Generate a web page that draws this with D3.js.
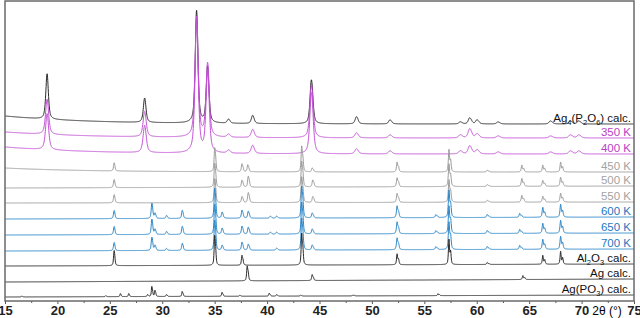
<!DOCTYPE html>
<html>
<head>
<meta charset="utf-8">
<script src="https://cdn.jsdelivr.net/npm/d3@7"></script>
<style>
  body { margin: 0; background: #fff; }
  text { font-family: "Liberation Sans", Arial, sans-serif; }
</style>
</head>
<body>
<div id="xrd_chart"></div>
<script>
// peak lists: [2theta, height]
var ag4p2o6Calc = [[19.0,45],[28.3,24],[33.25,110],[34.3,55],[36.3,4],[38.6,8],[44.2,43],[48.5,7],[51.7,4],[58.4,2],[59.3,6],[60.0,4],[62.0,2],[67.0,3],[68.9,3],[69.7,3]];
var k350 = [[19.0,35],[28.3,25],[33.25,118],[34.3,72],[36.3,3],[38.6,8],[44.2,52],[48.5,5],[51.7,3],[58.4,3],[59.3,9],[60.0,4],[62.0,2],[67.0,2],[68.9,3],[69.7,3]];
var k400 = [[19.0,36],[28.3,27],[33.25,128],[34.3,80],[36.3,3],[38.6,8],[44.2,60],[48.5,5],[51.7,3],[58.4,3],[59.3,8],[60.0,4],[62.0,2],[67.0,2],[68.9,3],[69.7,3]];
var k450 = [[25.4,8],[35.0,24],[37.6,8],[38.15,7],[43.3,26],[44.3,4],[52.4,10],[57.35,23],[61.0,2],[64.3,7],[66.3,7],[68.0,10]];
var k500 = [[25.4,8],[35.0,24],[37.6,7],[38.2,11],[43.3,26],[44.35,7],[52.4,9],[57.35,23],[61.0,2],[64.3,8],[66.3,6],[68.0,9]];
var k550 = [[25.4,8],[35.0,24],[37.6,6],[38.2,10],[43.3,26],[44.35,6],[52.4,9],[57.35,23],[61.0,2],[64.3,7],[66.3,6],[68.0,9]];
var k600 = [[25.4,8],[29.0,15],[29.3,5],[30.4,3],[31.9,8],[35.0,30],[35.7,6],[37.6,8],[38.2,7],[40.3,2],[40.9,2],[43.3,32],[44.3,5],[52.4,12],[56.1,3],[57.35,28],[61.0,3],[64.1,4],[66.3,10],[68.0,13]];
var k650 = [[25.4,8],[29.0,15],[29.3,5],[30.4,3],[31.9,8],[35.0,30],[35.7,6],[37.6,8],[38.2,7],[40.3,2],[40.9,2],[43.3,32],[44.3,5],[52.4,12],[56.1,3],[57.35,28],[61.0,3],[64.1,4],[66.3,10],[68.0,13]];
var k700 = [[25.4,8],[29.0,13],[29.3,5],[30.4,2],[31.9,7],[35.0,30],[35.7,5],[37.6,8],[38.2,6],[40.9,2],[43.3,32],[44.3,5],[52.4,12],[56.1,3],[57.35,28],[61.0,3],[64.1,4],[66.3,10],[68.0,13]];
var al2o3Calc = [[25.4,15],[35.0,30],[37.6,10],[43.3,32],[52.4,11],[57.35,26],[61.0,2],[66.3,9],[68.0,13]];
var agCalc = [[38.1,15],[44.3,6],[64.4,4]];
var agpo3Calc = [[16.6,1],[24.6,1],[26.0,3],[26.8,3],[28.6,2],[29.0,10],[29.3,6],[30.4,2],[31.9,5],[35.7,4],[37.4,1],[40.2,3],[40.9,1.5],[43.2,1],[48.2,1],[56.3,2]];

var patterns = [ag4p2o6Calc, k350, k400, k450, k500, k550, k600, k650, k700, al2o3Calc, agCalc, agpo3Calc];
var labels = ["Ag_4(P_2O_6) calc.", "350 K", "400 K", "450 K", "500 K", "550 K", "600 K", "650 K", "700 K", "Al_2O_3 calc.", "Ag calc.", "Ag(PO_3) calc."];
var groups = ["calc", "low", "low", "mid", "mid", "mid", "high", "high", "high", "calc", "calc", "calc"];
// background level at 15 and 75 deg, low angle rise
var bgStart = [177, 163, 147, 129, 113, 98, 82, 66, 50, 35, 19, 4];
var bgEnd   = [177, 163, 147, 129, 115, 99, 84, 68, 52, 37, 22, 6];
var bgRise  = [8, 6, 7, 4, 0, 0, 0, 0, 0, 0, 0, 0];
var peakWidth = [0.28, 0.34, 0.34, 0.13, 0.14, 0.14, 0.14, 0.14, 0.14, 0.12, 0.12, 0.1];

var xTicks = [15, 20, 25, 30, 35, 40, 45, 50, 55, 60, 65, 70, 75];
var xMinor = [17.5, 22.5, 27.5, 32.5, 37.5, 42.5, 47.5, 52.5, 57.5, 62.5, 67.5, 72.5];

var width = 640,
    height = 318

var svg = d3.select("#xrd_chart")
    .append("svg")
        .attr("width", width)
        .attr("height", height)

var x = d3.scaleLinear().domain([15, 75]).range([5, 634])
var y = d3.scaleLinear().domain([0, 300]).range([301, 1])

var color = d3.scaleOrdinal()
    .domain(["calc", "low", "mid", "high"])
    .range(["#2a2a2a", "#c452d6", "#9c9c9c", "#2a86c8"])
var labelColor = d3.scaleOrdinal()
    .domain(["calc", "low", "mid", "high"])
    .range(["#111", "#b93fc4", "#a3a3a3", "#1f78c0"])

// pseudo-voigt peak, with Ka2 line at half intensity
function pv(d, hw) {
    var r = (d / hw) * (d / hw)
    return 0.6 / (1 + r) + 0.4 * Math.exp(-Math.LN2 * r)
}
function ka2Shift(t) {
    return 2 * Math.tan(t / 2 * Math.PI / 180) * 0.002486 * 180 / Math.PI
}

var grid = d3.range(15, 75.001, 0.02)

function profile(i) {
    var hw = peakWidth[i] / 2
    return grid.map(function(t) {
        var v = bgStart[i] + (bgEnd[i] - bgStart[i]) * (t - 15) / 60 + bgRise[i] * Math.exp(-(t - 15) / 8)
        patterns[i].forEach(function(p) {
            var s = ka2Shift(p[0])
            var h = p[1] / (1 + 0.5 * pv(s, hw))
            v += h * pv(t - p[0], hw) + 0.5 * h * pv(t - p[0] - s, hw)
        })
        return [t, v]
    })
}

var line = d3.line()
    .x(function(d){ return x(d[0]) })
    .y(function(d){ return y(d[1]) })

var plot = svg.append("g")
plot.selectAll("path")
    .data(patterns.map(function(p, i){ return i }))
    .enter()
    .append("path")
      .attr("d", function(i){ return line(profile(i)) })
      .attr("fill", "none")
      .attr("stroke", function(i){ return color(groups[i]) })
      .attr("stroke-width", 1)

// labels with subscripts
var lab = svg.append("g")
labels.forEach(function(s, i) {
    var t = lab.append("text")
        .attr("x", 631)
        .attr("y", y(bgEnd[i]) - 2)
        .attr("text-anchor", "end")
        .attr("font-size", 11.5)
        .attr("fill", labelColor(groups[i]))
    var down = false
    s.split(/(_\d)/).forEach(function(part) {
        if (part === "") return
        if (part[0] === "_") {
            t.append("tspan").attr("font-size", 7.5).attr("dy", 3).text(part.slice(1))
            down = true
        } else {
            t.append("tspan").attr("dy", down ? -3 : 0).text(part)
            down = false
        }
    })
})

// x axis
var xAxis = svg.append("g")
    .attr("transform", "translate(0,301)")
    .call(d3.axisBottom(x).tickValues(xTicks).tickSize(3).tickPadding(2).tickFormat(d3.format("d")))
xAxis.select(".domain").remove()
xAxis.selectAll("text").attr("font-size", 13).attr("font-weight", "bold").attr("fill", "#222").style("font-family", "Liberation Sans, Arial, sans-serif")
xAxis.selectAll("line").attr("stroke", "#555")

var minor = svg.append("g")
    .attr("transform", "translate(0,301)")
    .call(d3.axisBottom(x).tickValues(xMinor).tickSize(2).tickFormat(""))
minor.select(".domain").remove()
minor.selectAll("line").attr("stroke", "#555")

svg.append("text")
    .attr("x", 607)
    .attr("y", 315)
    .attr("text-anchor", "middle")
    .attr("font-size", 12)
    .attr("fill", "#000")
    .text("2θ (°)")

// frame
svg.append("rect")
    .attr("x", 5).attr("y", 1)
    .attr("width", 629).attr("height", 300)
    .attr("fill", "none")
    .attr("stroke", "#6a6a6a")
    .attr("stroke-width", 1.5)
</script>
</body>
</html>
